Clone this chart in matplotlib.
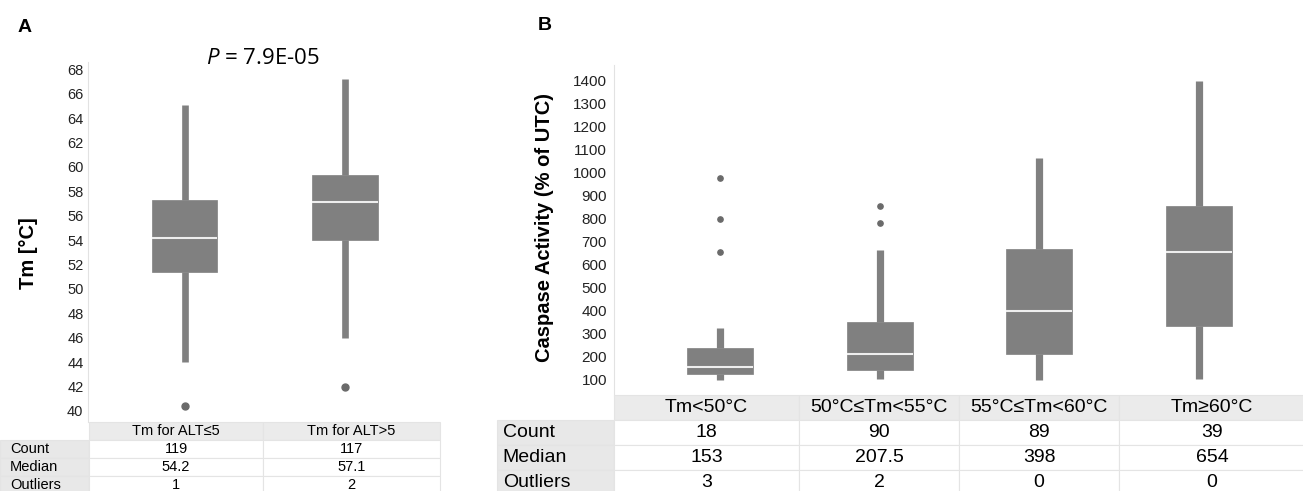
import matplotlib
matplotlib.use("Agg")
import matplotlib.pyplot as plt

plt.rcParams['font.family'] = ['Liberation Sans', 'DejaVu Sans']
plt.rcParams['mathtext.fontset'] = 'custom'
plt.rcParams['mathtext.it'] = 'Open Sans:italic'
plt.rcParams['mathtext.rm'] = 'Open Sans'

# ---------------- data, panel A ----------------
a_groups = ['Tm for ALT≤5', 'Tm for ALT>5']
a_whislo = [44.0, 46.0]
a_q1 = [51.4, 54.0]
a_med = [54.2, 57.1]
a_q3 = [57.3, 59.3]
a_whishi = [65.1, 67.2]
a_fliers = [[40.4], [42.0]]
a_count = ['119', '117']
a_median_txt = ['54.2', '57.1']
a_outliers = ['1', '2']
a_yticks = list(range(40, 70, 2))

# ---------------- data, panel B ----------------
b_groups = ['Tm<50°C', '50°C≤Tm<55°C', '55°C≤Tm<60°C', 'Tm≥60°C']
b_whislo = [97, 102, 96, 100]
b_q1 = [121, 140, 210, 332]
b_med = [153, 207.5, 398, 654]
b_q3 = [237, 350, 666, 854]
b_whishi = [324, 663, 1065, 1400]
b_fliers = [[655, 798, 976], [779, 856], [], []]
b_count = ['18', '90', '89', '39']
b_median_txt = ['153', '207.5', '398', '654']
b_outliers = ['3', '2', '0', '0']
b_yticks = list(range(100, 1500, 100))

W, H = 1303, 491
fig = plt.figure(figsize=(W / 100, H / 100), dpi=100)


def px(x0, y0, x1, y1):
    # pixel box (top-left origin) -> figure fraction rect
    return [x0 / W, 1 - y1 / H, (x1 - x0) / W, (y1 - y0) / H]


box_col = '#808080'


def draw_box(ax, lo, q1, med, q3, hi, fl, width, wlw, msize):
    stats = []
    for i in range(len(med)):
        stats.append(dict(whislo=lo[i], q1=q1[i], med=med[i], q3=q3[i],
                          whishi=hi[i], fliers=fl[i]))
    ax.bxp(stats, positions=range(1, len(med) + 1), widths=width,
           patch_artist=True, showcaps=False,
           boxprops=dict(facecolor=box_col, edgecolor=box_col, linewidth=0.5),
           medianprops=dict(color='#eeeeee', linewidth=1.5),
           whiskerprops=dict(color=box_col, linewidth=wlw, solid_capstyle='butt'),
           flierprops=dict(marker='o', markerfacecolor='#6a6a6a',
                           markeredgecolor='#6a6a6a', markersize=msize))


def style_axis(ax, ticks, fs, pad):
    for s in ['top', 'right', 'bottom']:
        ax.spines[s].set_visible(False)
    ax.spines['left'].set_color('#e2e2e2')
    ax.spines['left'].set_linewidth(0.8)
    ax.set_xticks([])
    ax.set_yticks(ticks)
    ax.tick_params(axis='y', length=0, pad=pad, labelsize=fs, labelcolor='#222222')


def draw_table(ax, groups, rows, col_w, fs, pad):
    cells = [[''] + groups]
    for name, vals in rows:
        cells.append([name] + vals)
    ax.axis('off')
    tb = ax.table(cellText=cells, cellLoc='center', colWidths=col_w,
                  bbox=[0, 0, 1, 1])
    tb.auto_set_font_size(False)
    for (r, c), cell in tb.get_celld().items():
        cell.set_edgecolor('#e4e4e4')
        cell.set_linewidth(0.8)
        cell.get_text().set_fontsize(fs)
        if r == 0 and c == 0:
            cell.set_facecolor('white')
            cell.visible_edges = ''
        elif r == 0:
            cell.set_facecolor('#ebebeb')
        elif c == 0:
            cell.set_facecolor('#e8e8e8')
            cell.get_text().set_horizontalalignment('left')
            cell.PAD = pad
        else:
            cell.set_facecolor('white')


# ---------------- panel A ----------------
axA = fig.add_axes(px(88.3, 62, 440, 422.3))
draw_box(axA, a_whislo, a_q1, a_med, a_q3, a_whishi, a_fliers, 0.41, 4.8, 5)
axA.set_xlim(0.398, 2.595)
axA.set_ylim(39.07, 68.6)
style_axis(axA, a_yticks, 10.5, 3.5)

tA = fig.add_axes(px(0, 422.3, 440, 493.4))
draw_table(tA, a_groups,
           [('Count', a_count), ('Median', a_median_txt), ('Outliers', a_outliers)],
           [89, 174, 177], 10.5, 0.11)

fig.text(263 / W, 1 - 64 / H, r'$P$ = 7.9E-05', family='Open Sans', fontsize=16,
         ha='center', va='baseline')
fig.text(28 / W, 1 - 253 / H, 'Tm [°C]', rotation=90, fontsize=14.5,
         fontweight='bold', ha='center', va='center')
fig.text(18 / W, 1 - 32 / H, 'A', fontsize=14, fontweight='bold', va='baseline')

# ---------------- panel B ----------------
axB = fig.add_axes(px(614, 65, 1303, 395))
draw_box(axB, b_whislo, b_q1, b_med, b_q3, b_whishi, b_fliers, 0.413, 5.2, 3.8)
axB.set_xlim(0.336, 4.651)
axB.set_ylim(31, 1468)
style_axis(axB, b_yticks, 11, 5)

tB = fig.add_axes(px(497, 395, 1305, 495))
draw_table(tB, b_groups,
           [('Count', b_count), ('Median', b_median_txt), ('Outliers', b_outliers)],
           [117, 185, 160, 160, 186], 14, 0.05)

fig.text(544 / W, 1 - 228 / H, 'Caspase Activity (% of UTC)', rotation=90,
         fontsize=14.5, fontweight='bold', ha='center', va='center')
fig.text(538 / W, 1 - 30 / H, 'B', fontsize=14, fontweight='bold', va='baseline')

fig.savefig('out.png', dpi=100)
